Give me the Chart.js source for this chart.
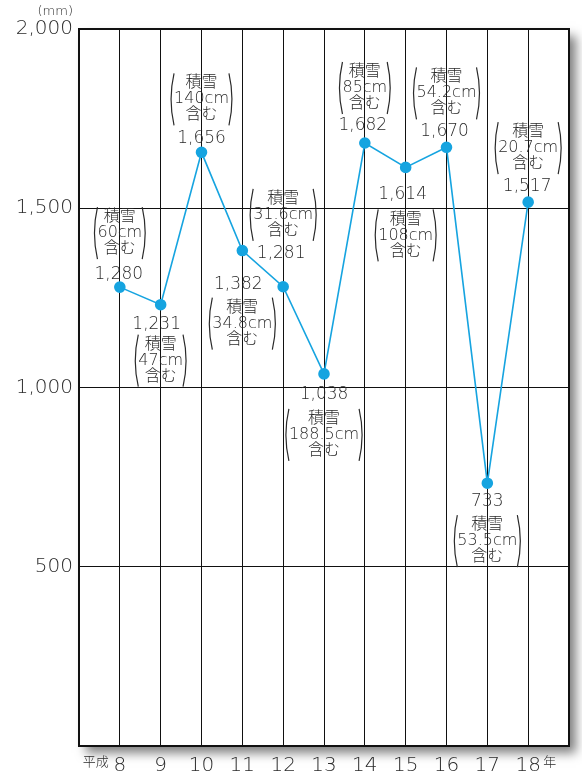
<!DOCTYPE html>
<html>
<head>
<meta charset="utf-8">
<script src="https://cdn.jsdelivr.net/npm/chart.js@4/dist/chart.umd.min.js"></script>
<style>
  html, body { margin: 0; padding: 0; background: #fff; }
  #wrap { width: 582px; height: 776px; }
</style>
</head>
<body>
<div id="wrap"><canvas id="rainChart" width="582" height="776"></canvas></div>
<script>
// 年間降水量 (mm)
const years = [8, 9, 10, 11, 12, 13, 14, 15, 16, 17, 18];
const rainfall = [1280, 1231, 1656, 1382, 1281, 1038, 1682, 1614, 1670, 733, 1517];
const snowDepth = ['60cm', '47cm', '140cm', '34.8cm', '31.6cm', '188.5cm', '85cm', '108cm', '54.2cm', '53.5cm', '20.7cm'];
const yTicks = [500, 1000, 1500, 2000];

// label placement next to each point: [value dx, value dy, snow block first line dy]
const labelPos = [
  [-1, -13, -70],
  [-4, 20, 40],
  [0, -14, -69],
  [-4, 34, 57],
  [-2, -33, -88],
  [0, 21, 45],
  [-2, -17, -71],
  [-3, 27, 52],
  [-2, -16, -70],
  [0, 18, 42],
  [-1, -16, -70]
];

const FONT = "'DejaVu Sans', 'Noto Sans CJK JP', sans-serif";
const TEXT = '#2a2a2a';
const LINE = '#16a4e0';

const frame = {
  id: 'frame',
  beforeDraw(chart) {
    const { ctx, chartArea: a } = chart;
    ctx.save();
    ctx.fillStyle = '#fff';
    ctx.shadowColor = 'rgba(0,0,0,0.5)';
    ctx.shadowBlur = 10;
    ctx.shadowOffsetX = 7;
    ctx.shadowOffsetY = 7;
    ctx.fillRect(a.left, a.top, a.right - a.left, a.bottom - a.top);
    ctx.restore();
  },
  beforeDatasetsDraw(chart) {
    const { ctx, chartArea: a } = chart;
    ctx.save();
    ctx.strokeStyle = '#111';
    ctx.lineWidth = 2;
    ctx.strokeRect(a.left, a.top, a.right - a.left, a.bottom - a.top);
    ctx.restore();
  },
  afterDraw(chart) {
    const { ctx, scales } = chart;
    ctx.save();
    ctx.fillStyle = TEXT;
    ctx.textBaseline = 'middle';
    ctx.font = '200 13px ' + FONT;
    ctx.textAlign = 'right';
    ctx.fillText('(mm)', 73, 12);
    const x8 = scales.x.getPixelForValue(years[0]);
    const x18 = scales.x.getPixelForValue(years[years.length - 1]);
    const y = scales.x.bottom - 13;
    ctx.fillText('平成', x8 - 11, y);
    ctx.textAlign = 'left';
    ctx.fillText('年', x18 + 15, y);
    ctx.restore();
  }
};

const annotations = {
  id: 'annotations',
  afterDatasetsDraw(chart) {
    const { ctx } = chart;
    const pts = chart.getDatasetMeta(0).data;
    ctx.save();
    ctx.fillStyle = TEXT;
    ctx.strokeStyle = TEXT;
    ctx.textAlign = 'center';
    ctx.textBaseline = 'middle';
    pts.forEach((p, i) => {
      const [vdx, vdy, bdy] = labelPos[i];
      ctx.font = '200 17px ' + FONT;
      ctx.fillText(rainfall[i].toLocaleString('en-US'), p.x + vdx, p.y + vdy);

      const lines = ['積雪', snowDepth[i], '含む'];
      ctx.font = '200 16px ' + FONT;
      const step = 16;
      let w = 0;
      lines.forEach((t, k) => {
        w = Math.max(w, ctx.measureText(t).width);
        ctx.fillText(t, p.x, p.y + bdy + k * step);
      });
      const y0 = p.y + bdy - 10;
      const y1 = p.y + bdy + 2 * step + 10;
      const xl = p.x - w / 2 - 3;
      const xr = p.x + w / 2 + 3;
      ctx.lineWidth = 1.2;
      ctx.beginPath();
      ctx.moveTo(xl + 3, y0);
      ctx.quadraticCurveTo(xl - 3, (y0 + y1) / 2, xl + 3, y1);
      ctx.moveTo(xr - 3, y0);
      ctx.quadraticCurveTo(xr + 3, (y0 + y1) / 2, xr - 3, y1);
      ctx.stroke();
    });
    ctx.restore();
  }
};

new Chart(document.getElementById('rainChart').getContext('2d'), {
  type: 'line',
  data: {
    datasets: [{
      data: years.map((yr, i) => ({ x: yr, y: rainfall[i] })),
      borderColor: LINE,
      backgroundColor: LINE,
      pointBackgroundColor: LINE,
      pointBorderColor: LINE,
      pointRadius: 5,
      borderWidth: 1.6,
      tension: 0
    }]
  },
  options: {
    responsive: false,
    animation: false,
    layout: { padding: { top: 29, right: 13, left: 0, bottom: 0 } },
    plugins: { legend: { display: false }, tooltip: { enabled: false } },
    scales: {
      x: {
        type: 'linear',
        min: 7,
        max: 19,
        afterFit(scale) { scale.height = 30; },
        afterBuildTicks(scale) {
          scale.ticks = [7].concat(years, [19]).map(v => ({ value: v }));
        },
        border: { display: false },
        grid: {
          color: c => (c.tick && c.tick.value >= 8 && c.tick.value <= 18) ? '#111' : 'rgba(0,0,0,0)',
          lineWidth: 1,
          drawTicks: false
        },
        ticks: {
          padding: 8,
          color: TEXT,
          font: { family: FONT, size: 20, weight: '200' },
          callback: v => (v >= 8 && v <= 18) ? String(v) : ''
        }
      },
      y: {
        min: 0,
        max: 2000,
        afterFit(scale) { scale.width = 79; },
        afterBuildTicks(scale) {
          scale.ticks = [0].concat(yTicks).map(v => ({ value: v }));
        },
        border: { display: false },
        grid: {
          color: c => (c.tick && c.tick.value > 0 && c.tick.value < 2000) ? '#111' : 'rgba(0,0,0,0)',
          lineWidth: 1,
          drawTicks: false
        },
        ticks: {
          padding: 6,
          color: TEXT,
          font: { family: FONT, size: 20, weight: '200' },
          callback: v => v === 0 ? '' : v.toLocaleString('en-US')
        }
      }
    }
  },
  plugins: [frame, annotations]
});
</script>
</body>
</html>
